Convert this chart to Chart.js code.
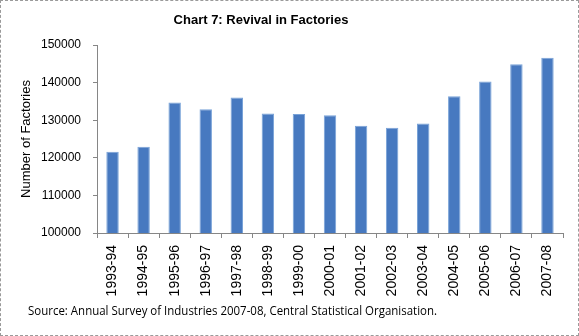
<!DOCTYPE html>
<html>
<head>
<meta charset="utf-8">
<script src="https://cdn.jsdelivr.net/npm/chart.js@4/dist/chart.umd.min.js"></script>
<style>
	html, body { margin: 0; padding: 0; background: #fff; }
	#wrap { position: relative; width: 579px; height: 336px; }
	#frame { position: absolute; left: 0; top: 0; width: 577px; height: 334px; border: 1px dashed #9a9a9a; pointer-events: none; }
</style>
</head>
<body>
<div id="wrap">
	<canvas id="myChart" width="579" height="336"></canvas>
	<div id="frame"></div>
</div>
<script>
/* chart data */
var years = ['1993-94', '1994-95', '1995-96', '1996-97', '1997-98', '1998-99', '1999-00', '2000-01',
	'2001-02', '2002-03', '2003-04', '2004-05', '2005-06', '2006-07', '2007-08'];
var factories = [121600, 122950, 134700, 132900, 136050, 131800, 131650, 131300,
	128550, 128000, 129150, 136400, 140300, 144900, 146600];
var yTicks = [100000, 110000, 120000, 130000, 140000, 150000];

var chartTitle = 'Chart 7: Revival in Factories';
var yTitle = 'Number of Factories';
var sourceNote = 'Source: Annual Survey of Industries 2007-08, Central Statistical Organisation.';

var axisGrey = '#868686';

/* title above the plot and source line under the axis */
var textPlugin = {
	id: 'chartTexts',
	afterDraw: function(chart) {
		var c = chart.ctx;
		c.save();
		c.fillStyle = '#000';
		c.textBaseline = 'middle';

		c.font = 'bold 13px Arial';
		c.textAlign = 'center';
		c.fillText(chartTitle, 261, 20);

		// source note: Calibri-like narrow text
		c.font = '13px "Open Sans"';
		c.textAlign = 'left';
		c.translate(28, 311);
		c.scale(409 / c.measureText(sourceNote).width, 1);
		c.fillText(sourceNote, 0, 0);
		c.restore();
	}
};

var ctx = document.getElementById('myChart').getContext('2d');
var myChart = new Chart(ctx, {
	type: 'bar',
	data: {
		labels: years,
		datasets: [{
			data: factories,
			backgroundColor: '#4779c0',
			borderColor: '#79a3d8',
			borderWidth: 1,
			categoryPercentage: 1,
			barPercentage: 0.4
		}]
	},
	options: {
		responsive: false,
		animation: false,
		layout: { padding: { left: 0, right: 16, top: 45, bottom: 35 } },
		plugins: {
			legend: { display: false },
			tooltip: { enabled: false },
			title: { display: false }
		},
		scales: {
			x: {
				afterFit: function(scale) { scale.height = 68; },
				border: { color: axisGrey },
				grid: { drawOnChartArea: false, color: axisGrey, tickLength: 5 },
				ticks: {
					color: '#000',
					font: { family: 'Arial', size: 14 },
					minRotation: 90,
					maxRotation: 90,
					padding: 7,
					autoSkip: false
				}
			},
			y: {
				min: 100000,
				max: 150000,
				afterFit: function(scale) { scale.width = 97; },
				afterBuildTicks: function(scale) {
					scale.ticks = yTicks.map(function(v) { return { value: v }; });
				},
				border: { color: axisGrey },
				grid: { drawOnChartArea: false, color: axisGrey, tickLength: 4 },
				ticks: {
					color: '#000',
					font: { family: 'Arial', size: 12 },
					padding: 12,
					callback: function(v) { return String(v); }
				},
				title: {
					display: true,
					text: yTitle,
					color: '#000',
					font: { family: 'Arial', size: 13 },
					padding: { top: 19, bottom: 0 }
				}
			}
		}
	},
	plugins: [textPlugin]
});
</script>
</body>
</html>
